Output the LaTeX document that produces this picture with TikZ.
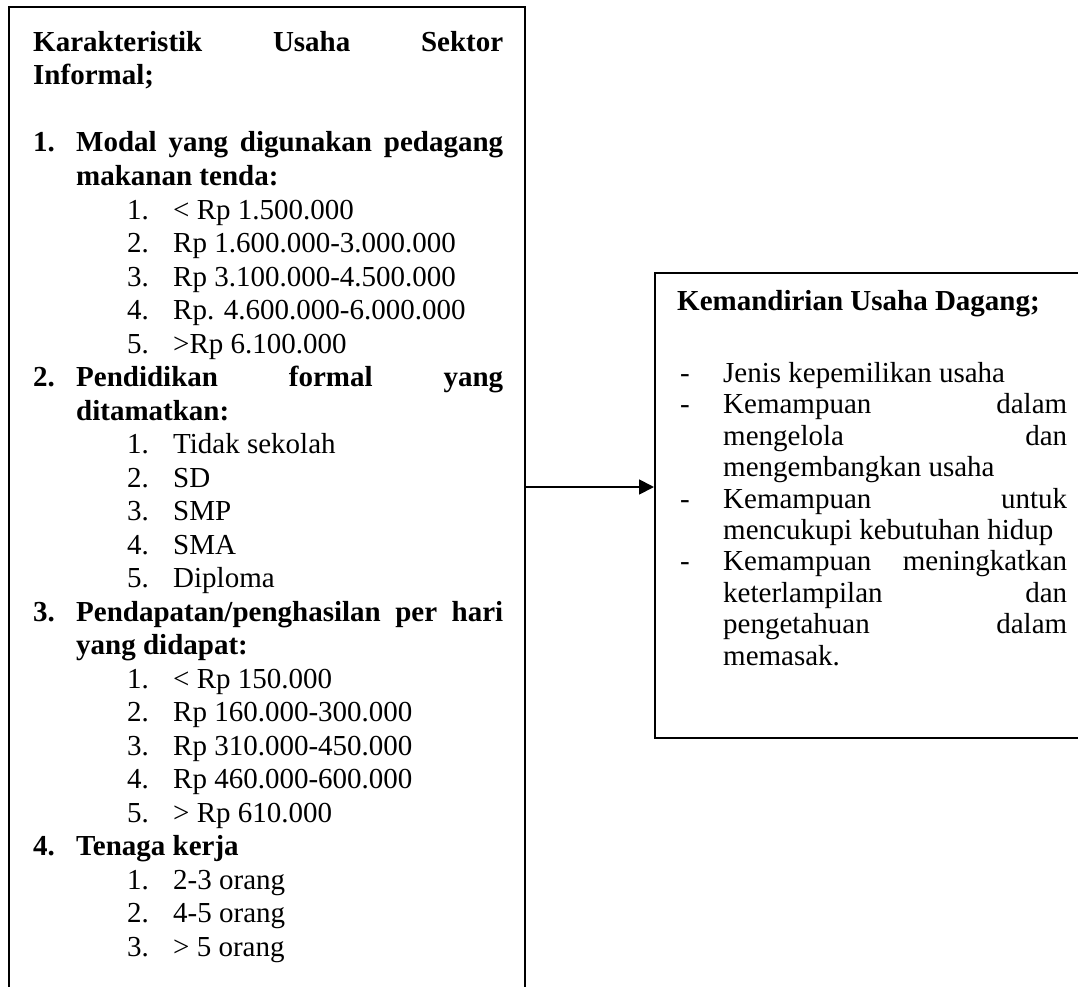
\documentclass[tikz,border=0pt]{standalone}
\usepackage{fontspec}
\setmainfont{Liberation Serif}
\usetikzlibrary{arrows.meta}
\newcommand\LL[4]{\node[txt] (#1) at (#2,{51.5+33.5*#3}) {#4};}
\newcommand\RL[4]{\node[txt] (#1) at (#2,{319.6+31.4*#3}) {#4};}
\newcommand\jb[2]{\makebox[#1pt][s]{#2}}
\begin{document}
\begin{tikzpicture}[x=1pt,y=-1pt,
  txt/.style={anchor=base west,inner sep=0pt,font=\fontsize{29}{33.5}\selectfont},
  box/.style={draw,line width=1.8pt,anchor=north west,inner sep=0pt},
  arr/.style={-{Triangle[length=15pt,width=15pt]},line width=1.8pt}]
\path[use as bounding box] (0,0) rectangle (1078,987);
% boxes
\node[box,minimum width=516pt,minimum height=1004pt] (kar) at (8,6) {};
\node[box,minimum width=436pt,minimum height=465pt] (kem) at (654,272) {};
\coordinate (ay) at (0,487);
\draw[arr] (kar.east |- ay) -- (kem.west |- ay);
% left box text
\LL{k0}{33}{0}{\bfseries\jb{470}{Karakteristik Usaha Sektor}}
\LL{k1}{33}{1}{\bfseries Informal;}
\LL{n1}{33}{3}{\bfseries 1.}
\LL{k3}{76}{3}{\bfseries\jb{427}{Modal yang digunakan pedagang}}
\LL{k4}{76}{4}{\bfseries makanan tenda:}
\LL{a1n}{127}{5}{1.}\LL{a1}{173}{5}{< Rp 1.500.000}
\LL{a2n}{127}{6}{2.}\LL{a2}{173}{6}{Rp 1.600.000-3.000.000}
\LL{a3n}{127}{7}{3.}\LL{a3}{173}{7}{Rp 3.100.000-4.500.000}
\LL{a4n}{127}{8}{4.}\LL{a4}{173}{8}{Rp. 4.600.000-6.000.000}
\LL{a5n}{127}{9}{5.}\LL{a5}{173}{9}{>Rp 6.100.000}
\LL{n2}{33}{10}{\bfseries 2.}
\LL{k10}{76}{10}{\bfseries\jb{427}{Pendidikan formal yang}}
\LL{k11}{76}{11}{\bfseries ditamatkan:}
\LL{b1n}{127}{12}{1.}\LL{b1}{173}{12}{Tidak sekolah}
\LL{b2n}{127}{13}{2.}\LL{b2}{173}{13}{SD}
\LL{b3n}{127}{14}{3.}\LL{b3}{173}{14}{SMP}
\LL{b4n}{127}{15}{4.}\LL{b4}{173}{15}{SMA}
\LL{b5n}{127}{16}{5.}\LL{b5}{173}{16}{Diploma}
\LL{n3}{33}{17}{\bfseries 3.}
\LL{k17}{76}{17}{\bfseries\jb{427}{Pendapatan/penghasilan per hari}}
\LL{k18}{76}{18}{\bfseries yang didapat:}
\LL{c1n}{127}{19}{1.}\LL{c1}{173}{19}{< Rp 150.000}
\LL{c2n}{127}{20}{2.}\LL{c2}{173}{20}{Rp 160.000-300.000}
\LL{c3n}{127}{21}{3.}\LL{c3}{173}{21}{Rp 310.000-450.000}
\LL{c4n}{127}{22}{4.}\LL{c4}{173}{22}{Rp 460.000-600.000}
\LL{c5n}{127}{23}{5.}\LL{c5}{173}{23}{> Rp 610.000}
\LL{n4}{33}{24}{\bfseries 4.}
\LL{k24}{76}{24}{\bfseries Tenaga kerja}
\LL{d1n}{127}{25}{1.}\LL{d1}{173}{25}{2-3 orang}
\LL{d2n}{127}{26}{2.}\LL{d2}{173}{26}{4-5 orang}
\LL{d3n}{127}{27}{3.}\LL{d3}{173}{27}{> 5 orang}
% right box text
\node[txt] (r0) at (677,310) {\bfseries Kemandirian Usaha Dagang;};
\RL{m2}{680}{2}{-}\RL{r2}{723}{2}{Jenis kepemilikan usaha}
\RL{m3}{680}{3}{-}\RL{r3}{723}{3}{\jb{344}{Kemampuan dalam}}
\RL{r4}{723}{4}{\jb{344}{mengelola dan}}
\RL{r5}{723}{5}{mengembangkan usaha}
\RL{m6}{680}{6}{-}\RL{r6}{723}{6}{\jb{344}{Kemampuan untuk}}
\RL{r7}{723}{7}{mencukupi kebutuhan hidup}
\RL{m8}{680}{8}{-}\RL{r8}{723}{8}{\jb{344}{Kemampuan meningkatkan}}
\RL{r9}{723}{9}{\jb{344}{keterlampilan dan}}
\RL{r10}{723}{10}{\jb{344}{pengetahuan dalam}}
\RL{r11}{723}{11}{memasak.}
\end{tikzpicture}
\end{document}
